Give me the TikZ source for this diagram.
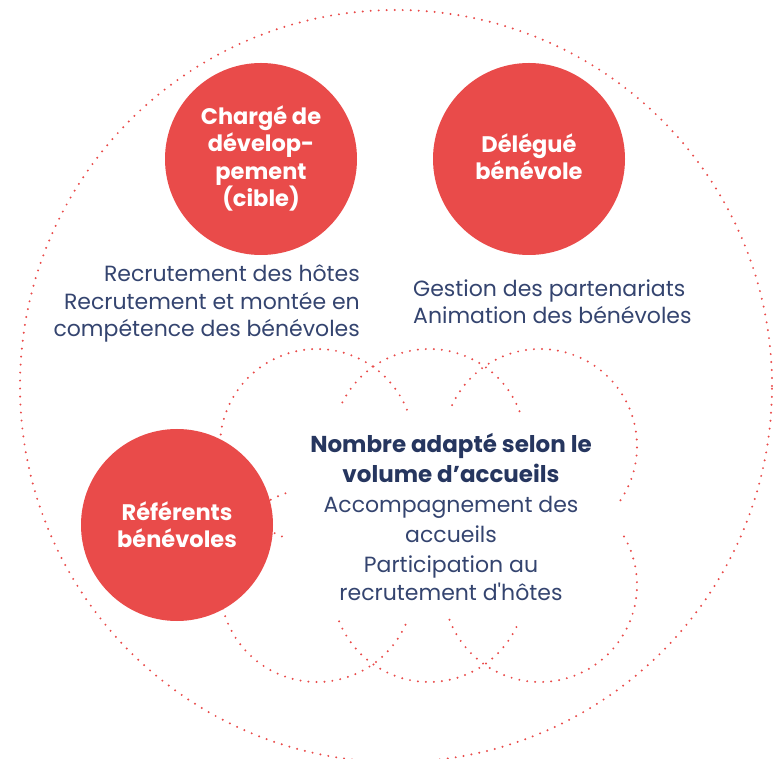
\documentclass[tikz,border=0pt]{standalone}
\usepackage{fontspec}
\setmainfont{Poppins}
\newfontfamily\plainquote{Poppins}[Ligatures=TeXOff]
\definecolor{redc}{HTML}{E94B4A}
\definecolor{navy}{HTML}{34446F}
\definecolor{navyb}{HTML}{26365F}
\begin{document}
\begin{tikzpicture}[x=1pt,y=1pt,
  dotline/.style={draw=redc, line width=2.2pt, line cap=round, dash pattern=on 0pt off 8pt},
  redcirc/.style={circle, fill=redc, minimum size=192pt, inner sep=0pt},
  wtext/.style={text=white, font=\bfseries\fontsize{22.5}{22.5}\selectfont, inner sep=0pt},
  body/.style={text=navy, font=\fontsize{22}{22}\selectfont, inner sep=0pt},
  head/.style={text=navyb, font=\bfseries\fontsize{23}{23}\selectfont, inner sep=0pt}]
\useasboundingbox (0,0) rectangle (773,758);
% big dotted circle
\coordinate (bigc) at (396,372);
\draw[dotline] (bigc) circle[radius=376];
% cloud of six dotted arcs
\coordinate (tl) at (317,312);
\coordinate (tm) at (429,312);
\coordinate (tr) at (540,312);
\coordinate (bl) at (317,173);
\coordinate (bm) at (429,173);
\coordinate (br) at (540,173);
\draw[dotline] (tl) ++(22:97) arc[start angle=22, end angle=251, radius=97];
\draw[dotline] (tm) ++(21:97) arc[start angle=21, end angle=158, radius=97];
\draw[dotline] (tr) ++(-34:97) arc[start angle=-34, end angle=159, radius=97];
\draw[dotline] (bl) ++(109:97) arc[start angle=109, end angle=338, radius=97];
\draw[dotline] (bm) ++(202:97) arc[start angle=202, end angle=339, radius=97];
\draw[dotline] (br) ++(201:97) arc[start angle=201, end angle=394, radius=97];
% red circles
\node[redcirc] (charge) at (261,599) {};
\node[redcirc] (delegue) at (529,599) {};
\node[redcirc] (referents) at (177,233) {};
% circle labels
\node[wtext, anchor=base] (c1) at (261,633) {Chargé de};
\node[wtext, anchor=base] (c2) at (261,606) {dévelop-};
\node[wtext, anchor=base] (c3) at (261,578) {pement};
\node[wtext, anchor=base] (c4) at (261,551) {(cible)};
\node[wtext, anchor=base] (d1) at (529,605) {Délégué};
\node[wtext, anchor=base] (d2) at (529,578) {bénévole};
\node[wtext, anchor=base] (r1) at (177,238) {Référents};
\node[wtext, anchor=base] (r2) at (177,211) {bénévoles};
% left text
\node[body, anchor=base east] (l1) at (360,476) {Recrutement des hôtes};
\node[body, anchor=base east] (l2) at (360,448.5) {Recrutement et montée en};
\node[body, anchor=base east] (l3) at (360,421) {compétence des bénévoles};
% right text
\node[body, anchor=base west] (g1) at (413,461) {Gestion des partenariats};
\node[body, anchor=base west] (g2) at (413,434) {Animation des bénévoles};
% centre text
\node[head, anchor=base] (h1) at (451,305) {Nombre adapté selon le};
\node[head, anchor=base] (h2) at (451,276) {volume d’accueils};
\node[body, anchor=base] (m1) at (451,245) {Accompagnement des};
\node[body, anchor=base] (m2) at (451,216) {accueils};
\node[body, anchor=base] (m3) at (451,186) {Participation au};
\node[body, anchor=base] (m4) at (451,158) {recrutement d{\plainquote '}hôtes};
\end{tikzpicture}
\end{document}
